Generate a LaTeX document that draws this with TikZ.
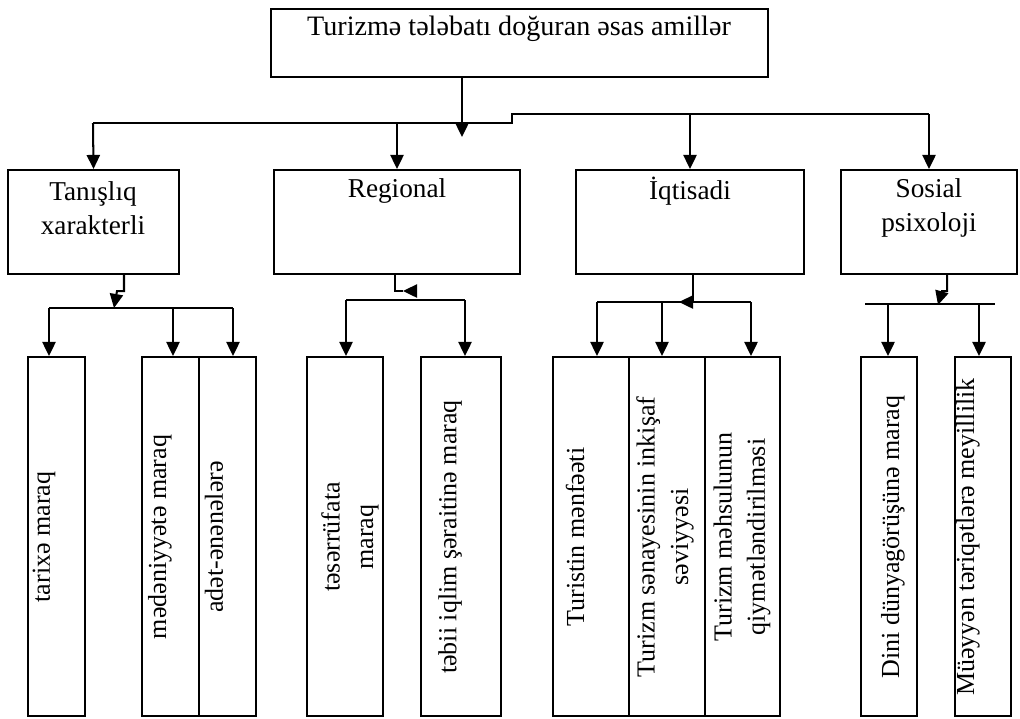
\documentclass[tikz,border=0pt]{standalone}
\usepackage{fontspec}
\setmainfont{Liberation Serif}
\usetikzlibrary{arrows.meta,fit}
\tikzset{
	box/.style={draw,line width=1.15pt,inner sep=0pt},
	ln/.style={line width=1.15pt},
	arr/.style={line width=1.15pt,-{Triangle[length=8pt,width=7.5pt]}},
	big/.style={font=\fontsize{16}{18}\selectfont,inner sep=0pt},
	cat/.style={font=\fontsize{15.5}{19.3}\selectfont,inner sep=0pt,align=center},
	vtxt/.style={font=\fontsize{14.8}{19}\selectfont,inner sep=0pt,align=center,rotate=90},
}
\begin{document}
\begin{tikzpicture}[x=0.02cm,y=-0.02cm]
	\useasboundingbox (0,0) rectangle (1020,718);
	% top box
	\node[box,fit={(271,9) (768,77)}] (top) {};
	\node[big] (topT) at (519,29) {Turizmə tələbatı doğuran əsas amillər};
	% four groups
	\node[box,fit={(8,170) (179,274)}] (tan) {};
	\node[box,fit={(274,170) (520,274)}] (reg) {};
	\node[box,fit={(576,170) (804,274)}] (iqt) {};
	\node[box,fit={(841,170) (1017,274)}] (sos) {};
	\node[cat] (tanT) at (93,208) {Tanışlıq\\xarakterli};
	\node[cat] (regT) at (397,191) {Regional};
	\node[cat] (iqtT) at (690,191) {İqtisadi};
	\node[cat] (sosT) at (929,208) {Sosial\\psixoloji};
	% lower boxes
	\node[box,fit={(28,357) (85,716)}] (tar) {};
	\node[box,fit={(142,357) (199,716)}] (med) {};
	\node[box,fit={(199,357) (256,716)}] (adt) {};
	\node[box,fit={(307,357) (383,716)}] (tes) {};
	\node[box,fit={(421,357) (501,716)}] (teb) {};
	\node[box,fit={(553,357) (629,716)}] (tur) {};
	\node[box,fit={(629,357) (705,716)}] (san) {};
	\node[box,fit={(705,357) (780,716)}] (mah) {};
	\node[box,fit={(861,357) (917,716)}] (din) {};
	\node[box,fit={(955,357) (1011,716)}] (mey) {};
	\node[vtxt] (tarT) at (44,537) {tarixə maraq};
	\node[vtxt] (medT) at (160,537) {mədəniyyətə maraq};
	\node[vtxt] (adtT) at (214,537) {adət-ənənələrə};
	\node[vtxt] (tesT) at (350,537) {təsərrüfata\\maraq};
	\node[vtxt] (tebT) at (450,537) {təbii iqlim şəraitinə maraq};
	\node[vtxt] (turT) at (575,537) {Turistin mənfəəti};
	\node[vtxt] (sanT) at (665,537) {Turizm sənayesinin inkişaf\\səviyyəsi};
	\node[vtxt] (mahT) at (742,537) {Turizm məhsulunun\\qiymətləndirilməsi};
	\node[vtxt] (dinT) at (893,537) {Dini dünyagörüşünə maraq};
	\node[vtxt] (meyT) at (968,537) {Müəyyən təriqətlərə meyillilik};
	% main bus
	\coordinate (busL) at (93,123);
	\coordinate (stepA) at (512,123);
	\coordinate (stepB) at (512,114);
	\coordinate (busR) at (929,114);
	\coordinate (topIn) at (462,137);
	\draw[ln] (busL) -- (stepA) -- (stepB) -- (busR);
	\draw[arr] (topIn |- top.south) -- (topIn);
	\draw[arr] (busL) -- (tan.north);
	\draw[arr] (reg.north |- busL) -- (reg.north);
	\draw[arr] (iqt.north |- busR) -- (iqt.north);
	\draw[arr] (busR) -- (sos.north);
	% Tanislig
	\coordinate (tanA) at (124,291);
	\coordinate (tanB) at (117,291);
	\coordinate (tanC) at (114,308);
	\draw[arr] (tanA |- tan.south) -- (tanA) -- (tanB) -- (tanC);
	\coordinate (tanL) at (49,308);
	\coordinate (tanM) at (173,308);
	\coordinate (tanR) at (233,308);
	\draw[ln] (tanL) -- (tanR);
	\draw[arr] (tanL) -- (tanL |- tar.north);
	\draw[arr] (tanM) -- (tanM |- med.north);
	\draw[arr] (tanR) -- (tanR |- adt.north);
	% Regional
	\coordinate (regA) at (395,291);
	\coordinate (regB) at (403,291);
	\coordinate (regC) at (416,291);
	\draw[ln] (regA |- reg.south) -- (regA) -- (regB);
	\draw[arr] (regC) -- (regB);
	\coordinate (regL) at (346,300);
	\coordinate (regR) at (465,300);
	\draw[ln] (regL) -- (regR);
	\draw[arr] (regL) -- (regL |- tes.north);
	\draw[arr] (regR) -- (regR |- teb.north);
	% Iqtisadi
	\coordinate (iqtA) at (693,302);
	\coordinate (iqtB) at (679,302);
	\draw[arr] (iqtA |- iqt.south) -- (iqtA) -- (iqtB);
	\coordinate (iqtL) at (597,302);
	\coordinate (iqtM) at (662,302);
	\coordinate (iqtR) at (751,302);
	\draw[ln] (iqtL) -- (iqtR);
	\draw[arr] (iqtL) -- (iqtL |- tur.north);
	\draw[arr] (iqtM) -- (iqtM |- san.north);
	\draw[arr] (iqtR) -- (iqtR |- mah.north);
	% Sosial
	\coordinate (sosA) at (947,291);
	\coordinate (sosB) at (942,291);
	\coordinate (sosC) at (938,305);
	\draw[arr] (sosA |- sos.south) -- (sosA) -- (sosB) -- (sosC);
	\coordinate (sosL) at (865,304);
	\coordinate (sosD) at (888,304);
	\coordinate (sosE) at (979,304);
	\coordinate (sosR) at (995,304);
	\draw[ln] (sosL) -- (sosR);
	\draw[arr] (sosD) -- (sosD |- din.north);
	\draw[arr] (sosE) -- (sosE |- mey.north);
\end{tikzpicture}
\end{document}
